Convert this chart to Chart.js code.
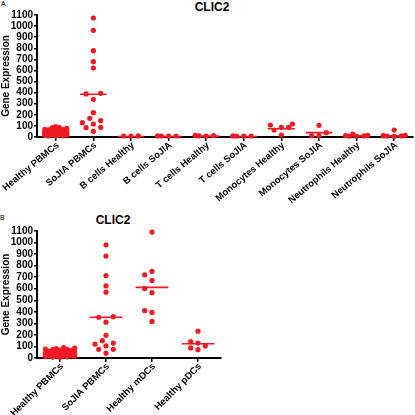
<!DOCTYPE html>
<html>
<head>
<meta charset="utf-8">
<script src="https://cdn.jsdelivr.net/npm/chart.js@4"></script>
<style>
  body { margin: 0; width: 415px; height: 415px; position: relative; background: #fff; overflow: hidden; font-family: Arial, "Liberation Sans", sans-serif; }
  canvas { position: absolute; left: 0; }
  .lbl { position: absolute; font-size: 7px; color: #000; }
  .ttl { position: absolute; font-size: 12px; font-weight: bold; color: #000; transform: translate(-50%, -50%); white-space: nowrap; }
</style>
</head>
<body>
<div class="lbl" style="left:1px;top:0px">A</div>
<div class="ttl" style="left:212px;top:7px">CLIC2</div>
<canvas id="topChart" width="415" height="205" style="top:0;width:415px;height:205px"></canvas>
<div class="lbl" style="left:0px;top:214px">B</div>
<div class="ttl" style="left:113px;top:220px">CLIC2</div>
<canvas id="bottomChart" width="235" height="210" style="top:205px;width:235px;height:210px"></canvas>
<script>
// panel A - categories, values per group, medians
const topCats = ['Healthy PBMCs', 'SoJIA PBMCs', 'B cells Healthy', 'B cells SoJIA', 'T cells Healthy',
  'T cells SoJIA', 'Monocytes Healthy', 'Monocytes SoJIA', 'Neutrophils Healthy', 'Neutrophils SoJIA'];
const healthyPbmcA = [93, 84, 84, 78, 70, 66, 60, 55, 50, 46, 42, 40, 38, 35, 32, 30, 28, 25, 22, 20, 18, 15, 12, 10, 8, 30, 45, 55, 65];
const sojiaPbmcA = [1073, 962, 778, 679, 622, 388, 394, 340, 219, 168, 147, 129, 117, 87, 84, 51];
const bHealthy = [10, 8, 9];
const bSojia = [8, 10, 7, 9];
const tHealthy = [10, 14, 9, 13];
const tSojia = [8, 9, 10, 7];
const monoHealthy = [117, 108, 87, 87, 63, 18];
const monoSojia = [105, 39, 12, 12];
const neutHealthy = [27, 15, 12, 10, 8, 6];
const neutSojia = [63, 15, 10, 12, 8, 6];
const topMedians = [42, 385, 5, 5, 8, 5, 75, 39, 10, 10];

// panel B
const bottomCats = ['Healthy PBMCs', 'SoJIA PBMCs', 'Healthy mDCs', 'Healthy pDCs'];
const healthyPbmcB = [90, 85, 82, 78, 75, 72, 68, 64, 60, 56, 52, 48, 45, 42, 40, 38, 35, 32, 30, 28, 26, 24, 22, 20, 18, 15, 12, 10, 8, 6, 30, 25, 35, 20];
const sojiaPbmcB = [980, 883, 714, 624, 570, 353, 358, 310, 196, 150, 129, 120, 105, 75, 75, 42];
const mdcHealthy = [1091, 751, 720, 672, 603, 566, 410, 395, 317];
const pdcHealthy = [232, 141, 129, 105, 87, 72];
const bottomMedians = [30, 353, 612, 123];

const yTicks = { min: 0, max: 1100, step: 100 };

const RED = 'rgb(240,26,36)';
const FONT = 'Arial, "Liberation Sans", sans-serif';

// short horizontal median bars, broken by nulls
function medianLine(medians) {
  let pts = [];
  medians.forEach((m, i) => {
    pts.push({ x: i - 0.355, y: m }, { x: i + 0.355, y: m }, { x: i, y: null });
  });
  return pts;
}

// spread dots sideways so they don't sit on top of each other
function spreadPoints(chart, groups) {
  const xs = chart.scales.x, ys = chart.scales.y;
  const band = xs.getPixelForValue(1) - xs.getPixelForValue(0);
  const limit = band * 0.32;
  const cand = [0, -7.3, 7.3, -3.65, 3.65, -11, 11, -14.6, 14.6].filter(o => Math.abs(o) <= limit);
  let out = [];
  groups.forEach((vals, i) => {
    let placed = [];
    let order = vals.map((v, k) => k).sort((a, b) => vals[a] - vals[b]);
    order.forEach(k => {
      const py = ys.getPixelForValue(vals[k]);
      let best = 0, bestD = -1;
      for (const off of cand) {
        let dmin = Infinity;
        placed.forEach(p => { dmin = Math.min(dmin, Math.hypot(p.dx - off, p.py - py)); });
        if (dmin >= 6) { best = off; break; }
        if (dmin > bestD) { bestD = dmin; best = off; }
      }
      placed.push({ dx: best, py: py });
      out.push({ x: i + best / band, y: vals[k] });
    });
  });
  return out;
}

// slanted category names under the x axis
function slantedLabels(cats, rot) {
  return {
    id: 'slantedLabels',
    afterDraw(chart) {
      const ctx = chart.ctx, xs = chart.scales.x;
      const y = chart.chartArea.bottom + 7;
      ctx.save();
      ctx.font = 'bold 9.5px ' + FONT;
      ctx.fillStyle = '#000';
      ctx.textAlign = 'right';
      ctx.textBaseline = 'middle';
      cats.forEach((c, i) => {
        ctx.save();
        ctx.translate(xs.getPixelForValue(i) + 2, y);
        ctx.rotate(-rot * Math.PI / 180);
        ctx.fillText(c, 0, 0);
        ctx.restore();
      });
      ctx.restore();
    }
  };
}

function makeChart(id, cats, groups, medians, rot, pad, xHeight) {
  const flat = [];
  groups.forEach((vals, i) => vals.forEach(v => flat.push({ x: i, y: v })));
  const chart = new Chart(document.getElementById(id), {
    type: 'scatter',
    data: {
      datasets: [
        { data: flat, backgroundColor: RED, borderColor: RED, pointRadius: 2.6, borderWidth: 0, clip: false },
        { data: medianLine(medians), showLine: true, borderColor: RED, borderWidth: 1.6, pointRadius: 0, spanGaps: false, clip: false }
      ]
    },
    plugins: [slantedLabels(cats, rot)],
    options: {
      responsive: false,
      animation: false,
      devicePixelRatio: 1,
      layout: { padding: pad, autoPadding: false },
      plugins: { legend: { display: false }, tooltip: { enabled: false }, title: { display: false } },
      scales: {
        x: {
          type: 'linear',
          min: -0.5,
          max: cats.length - 0.5,
          afterBuildTicks: scale => { scale.ticks = cats.map((c, i) => ({ value: i })); },
          afterFit: scale => { scale.height = xHeight; },
          ticks: { display: false },
          grid: { drawOnChartArea: false, drawTicks: true, tickLength: 4, color: '#000', lineWidth: 1.5 },
          border: { color: '#000', width: 2 }
        },
        y: {
          min: yTicks.min,
          max: yTicks.max,
          afterFit: scale => { scale.width = 37; },
          ticks: {
            stepSize: yTicks.step,
            autoSkip: false,
            padding: 1,
            color: '#000',
            font: { family: FONT, size: 10, weight: 'bold' },
            callback: v => String(v)
          },
          title: {
            display: true,
            text: 'Gene Expression',
            color: '#000',
            padding: 0,
            font: { family: FONT, size: 10, weight: 'bold' }
          },
          grid: { drawOnChartArea: false, drawTicks: true, tickLength: 3, color: '#000', lineWidth: 1.5 },
          border: { color: '#000', width: 2 }
        }
      }
    }
  });
  chart.data.datasets[0].data = spreadPoints(chart, groups);
  chart.update('none');
  return chart;
}

makeChart('topChart', topCats,
  [healthyPbmcA, sojiaPbmcA, bHealthy, bSojia, tHealthy, tSojia, monoHealthy, monoSojia, neutHealthy, neutSojia],
  topMedians, 40, { left: 0, right: 2, top: 15, bottom: 0 }, 68);

makeChart('bottomChart', bottomCats,
  [healthyPbmcB, sojiaPbmcB, mdcHealthy, pdcHealthy],
  bottomMedians, 45, { left: 0, right: 14, top: 26, bottom: 0 }, 57);
</script>
</body>
</html>
